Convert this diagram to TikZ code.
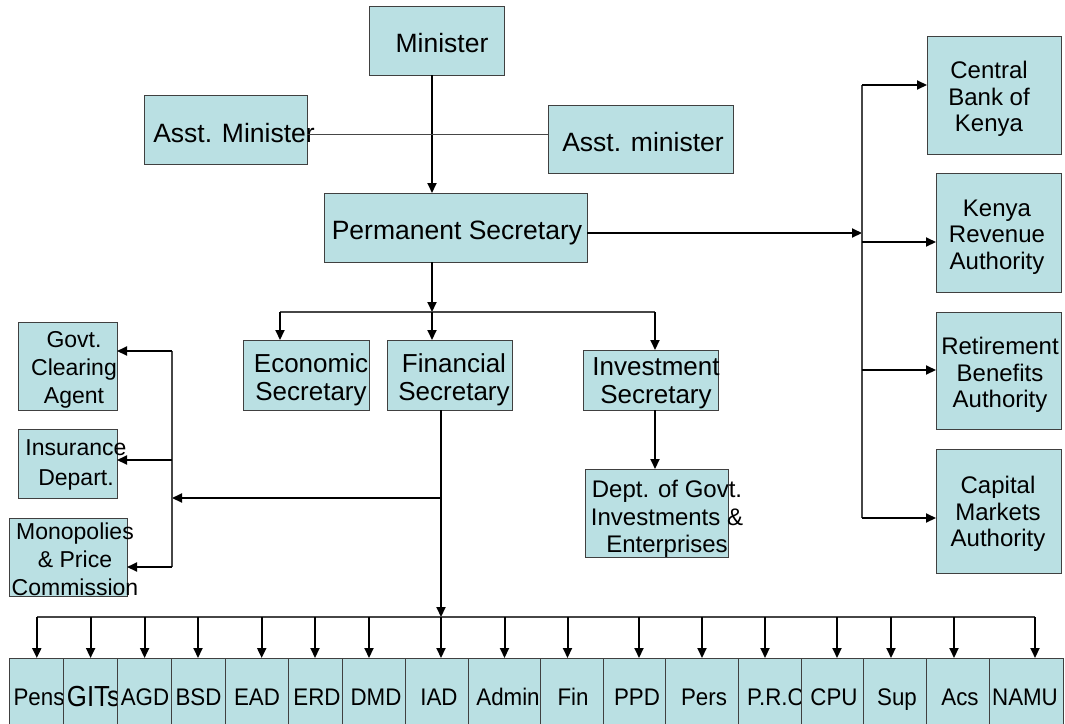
\documentclass[tikz,border=0pt]{standalone}
\usepackage{fontspec}
\setmainfont{Liberation Sans}
\newfontfamily\narrowfont{Liberation Sans}[FakeStretch=0.93]
\newfontfamily\gitsfont{Liberation Sans}[FakeStretch=0.89]
\usetikzlibrary{arrows.meta}
\definecolor{boxfill}{RGB}{186,224,227}
\definecolor{boxline}{RGB}{64,64,64}
\definecolor{busline}{RGB}{70,70,70}

\tikzset{
  box/.style={draw=boxline, line width=1pt, fill=boxfill, inner sep=0pt, outer sep=0pt},
  lab/.style={inner sep=0pt, align=center, text=black},
  topfont/.style={font=\fontsize{26.5}{30}\selectfont},
  secfont/.style={font=\fontsize{26}{28}\selectfont},
  sidefont/.style={font=\fontsize{24}{26.5}\selectfont},
  deptfont/.style={font=\fontsize{24}{27.5}\selectfont},
  leftfont/.style={font=\fontsize{23}{28}\selectfont},
  insfont/.style={font=\fontsize{23}{30}\selectfont},
  rowfont/.style={font=\fontsize{24}{26}\narrowfont},
  conn/.style={line width=2pt, black},
  arr/.style={conn, -{Triangle[length=10pt,width=9pt]}},
  bus/.style={line width=1.2pt, busline},
  thinline/.style={line width=1pt, busline},
}

% box node #1 spanning (#2,#3) to (#4,#5), y measured downwards
\newcommand\orgbox[5]{%
  \node[box, minimum width={#4-#2}, minimum height={#5-#3}] (#1) at ({(#2+#4)/2},{(#3+#5)/2}) {};}

\begin{document}
\begin{tikzpicture}[x=1pt,y=-1pt]
\useasboundingbox (0,0) rectangle (1065,723);
\clip (0,0) rectangle (1065,723);

% --- top of the ministry
\orgbox{min}{369}{6}{504}{75}
\node[lab, topfont, anchor=base] (t-min) at (442,52) {Minister};
\orgbox{am1}{144}{95}{307}{164}
\node[lab, topfont, anchor=base] (t-am1) at (234,142) {Asst. Minister};
\orgbox{am2}{548}{105}{733}{173}
\node[lab, topfont, anchor=base] (t-am2) at (643,151) {Asst. minister};
\orgbox{ps}{324}{193}{587}{262}
\node[lab, topfont, anchor=base] (t-ps) at (457,239) {Permanent Secretary};

% --- parastatals on the right
\orgbox{cbk}{927}{36}{1061}{154}
\node[lab, sidefont] (t-cbk) at (989,99) {Central\\Bank of\\Kenya};
\orgbox{kra}{936}{173}{1061}{292}
\node[lab, sidefont] (t-kra) at (997,237) {Kenya\\Revenue\\Authority};
\orgbox{rba}{936}{312}{1061}{429}
\node[lab, sidefont] (t-rba) at (1000,375) {Retirement\\Benefits\\Authority};
\orgbox{cma}{936}{449}{1061}{573}
\node[lab, sidefont] (t-cma) at (998,514) {Capital\\Markets\\Authority};

% --- secretaries
\orgbox{eco}{243}{340}{369}{410}
\node[lab, secfont] (t-eco) at (311,380) {Economic\\Secretary};
\orgbox{fin}{387}{340}{512}{410}
\node[lab, secfont] (t-fin) at (454,380) {Financial\\Secretary};
\orgbox{inv}{583}{350}{718}{410}
\node[lab, secfont] (t-inv) at (656,383) {Investment\\Secretary};
\orgbox{dgi}{585}{469}{728}{557}
\node[lab, deptfont] (t-dgi) at (667,519) {Dept. of Govt.\\Investments \&\\Enterprises};

% --- departments on the left
\orgbox{gca}{18}{322}{117}{410}
\node[lab, leftfont] (t-gca) at (74,370) {Govt.\\Clearing\\Agent};
\orgbox{ins}{18}{429}{117}{498}
\node[lab, insfont] (t-ins) at (76,465) {Insurance\\Depart.};
\orgbox{mpc}{9}{518}{127}{596}
\node[lab, leftfont] (t-mpc) at (75,559) {Monopolies\\\& Price\\Commission};

% --- bottom row of departments
\orgbox{pens}{9.6}{658}{63.7}{740}
\node[lab, rowfont, anchor=base] (t-pens) at (39,705) {Pens};
\orgbox{gits}{63.7}{658}{117.8}{740}
\node[lab, font=\fontsize{29}{30}\gitsfont, anchor=base] (t-gits) at (93.5,706) {GITs};
\orgbox{agd}{117.8}{658}{171.5}{740}
\node[lab, rowfont, anchor=base] (t-agd) at (145,705) {AGD};
\orgbox{bsd}{171.5}{658}{225.6}{740}
\node[lab, rowfont, anchor=base] (t-bsd) at (198.5,705) {BSD};
\orgbox{ead}{225.6}{658}{288.3}{740}
\node[lab, rowfont, anchor=base] (t-ead) at (257,705) {EAD};
\orgbox{erd}{288.3}{658}{342.7}{740}
\node[lab, rowfont, anchor=base] (t-erd) at (317,705) {ERD};
\orgbox{dmd}{342.7}{658}{405.4}{740}
\node[lab, rowfont, anchor=base] (t-dmd) at (376,705) {DMD};
\orgbox{iad}{405.4}{658}{468.4}{740}
\node[lab, rowfont, anchor=base] (t-iad) at (439,705) {IAD};
\orgbox{adm}{468.4}{658}{540.2}{740}
\node[lab, rowfont, anchor=base] (t-adm) at (508,705) {Admin};
\orgbox{fn}{540.2}{658}{603}{740}
\node[lab, rowfont, anchor=base] (t-fn) at (573,705) {Fin};
\orgbox{ppd}{603}{658}{665.8}{740}
\node[lab, rowfont, anchor=base] (t-ppd) at (637,705) {PPD};
\orgbox{pers}{665.8}{658}{738}{740}
\node[lab, rowfont, anchor=base] (t-pers) at (704,705) {Pers};
\orgbox{pro}{738}{658}{801}{740}
\node[lab, rowfont, anchor=base] (t-pro) at (776,705) {P.R.O};
\orgbox{cpu}{801}{658}{863.7}{740}
\node[lab, rowfont, anchor=base] (t-cpu) at (834,705) {CPU};
\orgbox{sup}{863.7}{658}{926.5}{740}
\node[lab, rowfont, anchor=base] (t-sup) at (897,705) {Sup};
\orgbox{acs}{926.5}{658}{989.6}{740}
\node[lab, rowfont, anchor=base] (t-acs) at (960,705) {Acs};
\orgbox{namu}{989.6}{658}{1063}{740}
\node[lab, rowfont, anchor=base] (t-namu) at (1025,705) {NAMU};

% --- connectors: minister to permanent secretary
\coordinate (xA) at (432,0);
\draw[arr] (min.south -| xA) -- (ps.north -| xA);
\coordinate (yA) at (0,134);
\draw[thinline] (am1.east |- yA) -- (am2.west |- yA);

% permanent secretary to the parastatals
\coordinate (rb0) at (862,233);
\coordinate (rb1) at (862,85);
\coordinate (rb2) at (862,242);
\coordinate (rb3) at (862,370);
\coordinate (rb4) at (862,518);
\draw[arr] (ps.east |- rb0) -- (rb0);
\draw[bus] (rb1) -- (rb4);
\draw[arr] (rb1) -- (cbk.west |- rb1);
\draw[arr] (rb2) -- (kra.west |- rb2);
\draw[arr] (rb3) -- (rba.west |- rb3);
\draw[arr] (rb4) -- (cma.west |- rb4);

% permanent secretary to the secretaries
\coordinate (mb) at (432,312);
\coordinate (mb1) at (280,312);
\coordinate (mb3) at (655,312);
\draw[arr] (ps.south -| mb) -- (mb);
\draw[bus] (mb1) -- (mb3);
\draw[arr] (mb1) -- (eco.north -| mb1);
\draw[arr] (mb) -- (fin.north -| mb);
\draw[arr] (mb3) -- (inv.north -| mb3);
\draw[arr] (inv.south -| mb3) -- (dgi.north -| mb3);

% financial secretary to the departments
\coordinate (fx) at (441,617);
\coordinate (lj) at (441,498);
\coordinate (lb) at (172,498);
\coordinate (lb1) at (172,351);
\coordinate (lb2) at (172,460);
\coordinate (lb3) at (172,567);
\draw[arr] (fin.south -| fx) -- (fx);
\draw[arr] (lj) -- (lb);
\draw[bus] (lb1) -- (lb3);
\draw[arr] (lb1) -- (gca.east |- lb1);
\draw[arr] (lb2) -- (ins.east |- lb2);
\draw[arr] (lb3) -- (mpc.east |- lb3);

\coordinate (bb1) at (37,617);
\coordinate (bb2) at (1035,617);
\draw[bus] (bb1) -- (bb2);
\foreach \n/\x in {pens/36.8, gits/90.6, agd/144.6, bsd/198, ead/261.7, erd/315,
                   dmd/369, iad/441, adm/504.5, fn/567.5, ppd/639, pers/702,
                   pro/765, cpu/837, sup/891, acs/954, namu/1035} {
  \coordinate (d-\n) at (\x,617);
  \draw[arr] (d-\n) -- (d-\n |- \n.north);
}
\end{tikzpicture}
\end{document}
